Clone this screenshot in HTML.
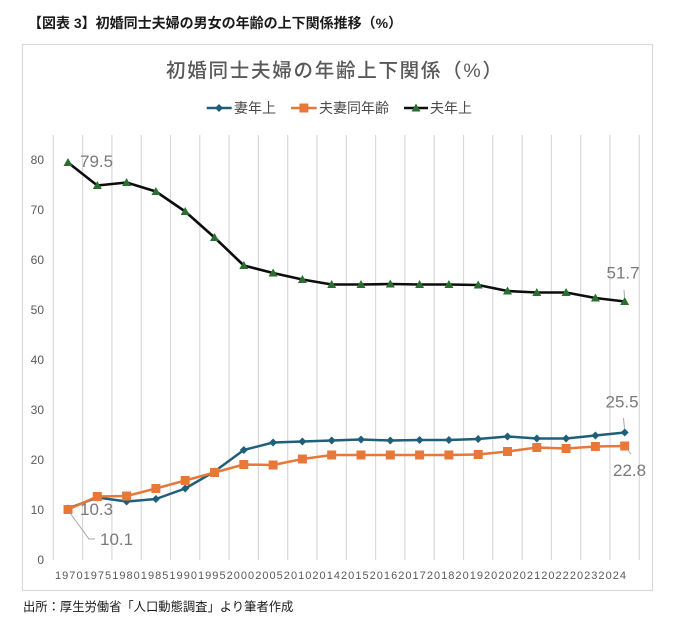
<!DOCTYPE html>
<html><head><meta charset="utf-8">
<style>
html,body{margin:0;padding:0;background:#fff;}
svg{display:block;}
.jp{font-family:"Liberation Sans","Noto Sans CJK JP",sans-serif;}
</style></head>
<body>
<svg width="680" height="631" viewBox="0 0 680 631" xmlns="http://www.w3.org/2000/svg">
<defs>
<marker id="mD" markerUnits="userSpaceOnUse" markerWidth="12" markerHeight="12" refX="6" refY="6" overflow="visible"><path d="M6,2 L10,6 L6,10 L2,6 Z" fill="#1f5f7a"/></marker>
<marker id="mS" markerUnits="userSpaceOnUse" markerWidth="12" markerHeight="12" refX="6" refY="6" overflow="visible"><rect x="1.5" y="1.5" width="9" height="9" fill="#e7783a"/></marker>
<marker id="mT" markerUnits="userSpaceOnUse" markerWidth="12" markerHeight="12" refX="6" refY="6" overflow="visible"><path d="M6,1.5 L10.5,9.5 L1.5,9.5 Z" fill="#2a6e30"/></marker>
</defs>
<rect width="680" height="631" fill="#fff"/>
<text x="28" y="28" class="jp" font-size="14" font-weight="700" fill="#1a1a1a">【図表 3】初婚同士夫婦の男女の年齢の上下関係推移（%）</text>
<rect x="22.5" y="44.5" width="630" height="546" fill="#fff" stroke="#d9d9d9" stroke-width="1.2"/>
<text x="166" y="77" class="jp" font-size="19.5" font-weight="500" fill="#595959" textLength="336" lengthAdjust="spacing">初婚同士夫婦の年齢上下関係（%）</text>
<!-- legend -->
<line x1="206.7" y1="108" x2="231.7" y2="108" stroke="#1f5f7a" stroke-width="2.5"/>
<path d="M219,104 L223,108 L219,112 L215,108 Z" fill="#1f5f7a"/>
<text x="234" y="113" class="jp" font-size="14" fill="#4a4a4a">妻年上</text>
<line x1="291" y1="108" x2="316.7" y2="108" stroke="#e7783a" stroke-width="2.5"/>
<rect x="299.4" y="103.5" width="9" height="9" fill="#e7783a"/>
<text x="319" y="113" class="jp" font-size="14" fill="#4a4a4a">夫妻同年齢</text>
<line x1="404" y1="108" x2="428" y2="108" stroke="#0d0d0d" stroke-width="2.5"/>
<path d="M416,103.5 L420.5,111.5 L411.5,111.5 Z" fill="#2a6e30"/>
<text x="430" y="113" class="jp" font-size="14" fill="#4a4a4a">夫年上</text>
<!-- gridlines -->
<g stroke="#d9d9d9" stroke-width="1.2">
<line x1="53.3" y1="135" x2="53.3" y2="560"/><line x1="82.6" y1="135" x2="82.6" y2="560"/><line x1="111.9" y1="135" x2="111.9" y2="560"/><line x1="141.2" y1="135" x2="141.2" y2="560"/><line x1="170.5" y1="135" x2="170.5" y2="560"/><line x1="199.8" y1="135" x2="199.8" y2="560"/><line x1="229.1" y1="135" x2="229.1" y2="560"/><line x1="258.4" y1="135" x2="258.4" y2="560"/><line x1="287.7" y1="135" x2="287.7" y2="560"/><line x1="317.0" y1="135" x2="317.0" y2="560"/><line x1="346.3" y1="135" x2="346.3" y2="560"/><line x1="375.6" y1="135" x2="375.6" y2="560"/><line x1="404.9" y1="135" x2="404.9" y2="560"/><line x1="434.2" y1="135" x2="434.2" y2="560"/><line x1="463.5" y1="135" x2="463.5" y2="560"/><line x1="492.8" y1="135" x2="492.8" y2="560"/><line x1="522.1" y1="135" x2="522.1" y2="560"/><line x1="551.4" y1="135" x2="551.4" y2="560"/><line x1="580.7" y1="135" x2="580.7" y2="560"/><line x1="610.0" y1="135" x2="610.0" y2="560"/><line x1="639.3" y1="135" x2="639.3" y2="560"/>
</g>
<!-- y labels -->
<g font-family="Liberation Sans, sans-serif" font-size="12" fill="#595959" text-anchor="end">
<text x="44" y="564">0</text><text x="44" y="514">10</text><text x="44" y="464">20</text><text x="44" y="414">30</text><text x="44" y="364">40</text><text x="44" y="314">50</text><text x="44" y="264">60</text><text x="44" y="214">70</text><text x="44" y="164">80</text>
</g>
<!-- x labels -->
<text x="55" y="579" font-family="Liberation Sans, sans-serif" font-size="11" fill="#595959" textLength="571" lengthAdjust="spacing">19701975198019851990199520002005201020142015201620172018201920202021202220232024</text>
<!-- series: wife older -->
<polyline fill="none" stroke="#1f5f7a" stroke-width="2.5" stroke-linejoin="round" marker-start="url(#mD)" marker-mid="url(#mD)" marker-end="url(#mD)"
points="68.0,508.5 97.3,497.5 126.6,501.5 155.9,499 185.2,488.5 214.5,471.5 243.8,450 273.1,442.5 302.4,441.5 331.7,440.5 361.0,439.5 390.3,440.5 419.6,440 448.9,440 478.2,439 507.5,436.5 536.8,438.5 566.1,438.5 595.4,435.5 624.7,432.5"/>
<!-- series: same age -->
<polyline fill="none" stroke="#e7783a" stroke-width="2.5" stroke-linejoin="round" marker-start="url(#mS)" marker-mid="url(#mS)" marker-end="url(#mS)"
points="68.0,509.5 97.3,496.5 126.6,496 155.9,488.5 185.2,480.5 214.5,472.5 243.8,464.5 273.1,465 302.4,459 331.7,455 361.0,455 390.3,455 419.6,455 448.9,455 478.2,454.5 507.5,451.5 536.8,447.5 566.1,448.5 595.4,446.5 624.7,446"/>
<!-- series: husband older -->
<polyline fill="none" stroke="#0d0d0d" stroke-width="2.6" stroke-linejoin="round" marker-start="url(#mT)" marker-mid="url(#mT)" marker-end="url(#mT)"
points="68.0,162.5 97.3,185.5 126.6,182.5 155.9,191.5 185.2,211.5 214.5,237.5 243.8,265.5 273.1,273 302.4,279.5 331.7,284.5 361.0,284.5 390.3,284 419.6,284.5 448.9,284.5 478.2,285 507.5,291 536.8,292.5 566.1,292.5 595.4,298 624.7,301.5"/>
<!-- leader lines -->
<g stroke="#a6a6a6" stroke-width="1" fill="none">
<polyline points="70,513 89,539 95,539"/>
<line x1="624" y1="290" x2="624.5" y2="297"/>
<line x1="623.5" y1="418" x2="624.5" y2="429"/>
<line x1="627" y1="449" x2="631" y2="454"/>
</g>
<!-- data labels -->
<g font-family="Liberation Sans, sans-serif" font-size="17" fill="#7a7a7a">
<text x="80" y="167">79.5</text>
<text x="80" y="515">10.3</text>
<text x="100" y="545">10.1</text>
<text x="606.5" y="278.5">51.7</text>
<text x="605.5" y="407.5">25.5</text>
<text x="613" y="476">22.8</text>
</g>
<text x="23" y="611" class="jp" font-size="12.3" fill="#1a1a1a">出所：厚生労働省「人口動態調査」より筆者作成</text>
</svg>
</body></html>
